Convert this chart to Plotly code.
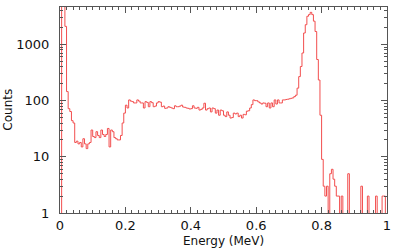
import numpy as np
import plotly.graph_objects as go

# Histogram: 200 bins of 0.005 MeV from 0 to 1 MeV
bin_start = 0.0
bin_width = 0.005
counts = [
    0, 30000, 6000, 2100, 145, 72, 64, 44, 40, 18,
    19, 17, 18, 15, 21, 17, 14, 17, 18, 30,
    23, 22, 28, 24, 22, 30, 25, 23, 25, 32,
    15, 30, 28, 22, 21, 20, 20, 24, 40, 60,
    83, 74, 103, 98, 96, 91, 91, 103, 98, 91,
    91, 74, 96, 93, 78, 96, 92, 78, 80, 91,
    96, 94, 78, 80, 73, 74, 78, 76, 74, 72,
    81, 78, 78, 80, 83, 77, 76, 74, 73, 71,
    72, 81, 74, 73, 76, 68, 70, 74, 90, 68,
    72, 74, 63, 74, 72, 60, 68, 55, 68, 66,
    55, 52, 63, 55, 49, 50, 60, 58, 60, 52,
    55, 49, 57, 56, 65, 66, 74, 85, 103, 100,
    100, 95, 91, 87, 91, 90, 78, 91, 74, 91,
    78, 103, 87, 103, 91, 91, 103, 103, 105, 106,
    108, 110, 112, 118, 125, 167, 268, 405, 705, 1600,
    2250, 3180, 3400, 3730, 3400, 2600, 1700, 540, 233, 55,
    9, 3, 2, 3, 0, 5, 6, 4, 3, 2,
    2, 0, 2, 0, 0, 0, 5, 0, 0, 0,
    0, 0, 0, 0, 3, 0, 0, 0, 2, 0,
    0, 0, 0, 2, 0, 0, 0, 2, 2, 0,
]

x_title = "Energy (MeV)"
y_title = "Counts"
x_tickvals = [0, 0.2, 0.4, 0.6, 0.8, 1]
x_ticktext = ["0", "0.2", "0.4", "0.6", "0.8", "1"]
y_tickvals = [1, 10, 100, 1000]
y_ticktext = ["1", "10", "100", "1000"]

counts_arr = np.array(counts, dtype=float)
edges = bin_start + bin_width * np.arange(len(counts_arr) + 1)
plot_counts = np.where(counts_arr > 0, counts_arr, 0.3)
xs = edges
ys = np.append(plot_counts, plot_counts[-1])

y_minor = [m * 10 ** d for d in range(0, 4) for m in range(2, 10)]

line_col = "#f24e4e"
axis_col = "#555555"
font_fam = "DejaVu Sans"

fig = go.Figure()
fig.add_trace(go.Scatter(
    x=xs, y=ys, mode="lines", line=dict(shape="hv", color=line_col, width=1),
    showlegend=False, hoverinfo="skip",
))

fig.update_layout(
    template="none",
    width=399, height=249,
    margin=dict(l=60, r=12, t=7, b=36, autoexpand=False),
    paper_bgcolor="white", plot_bgcolor="white",
    font=dict(family=font_fam, size=13, color="#111111"),
    xaxis=dict(
        range=[0, 1.00001], showgrid=False, zeroline=False, automargin=False,
        showline=True, linecolor=axis_col, linewidth=1, mirror="ticks",
        ticks="inside", ticklen=6, tickcolor=axis_col, tickwidth=1,
        tickvals=x_tickvals, ticktext=x_ticktext, ticklabeloverflow="allow",
        tickfont=dict(family=font_fam, size=13),
        minor=dict(ticks="inside", ticklen=3, tickcolor=axis_col, dtick=0.02, tick0=0, showgrid=False),
    ),
    yaxis=dict(
        type="log", range=[0, 3.667], showgrid=False, zeroline=False, automargin=False,
        showline=True, linecolor=axis_col, linewidth=1, mirror="ticks",
        ticks="inside", ticklen=6, tickcolor=axis_col, tickwidth=1,
        tickvals=y_tickvals, ticktext=y_ticktext,
        tickfont=dict(family=font_fam, size=13),
        ticklabelstandoff=7,
        minor=dict(ticks="inside", ticklen=3, tickcolor=axis_col, tickvals=y_minor, showgrid=False),
    ),
    annotations=[
        dict(text=x_title, xref="paper", yref="paper", x=0.5, y=-0.135,
             xanchor="center", yanchor="middle", showarrow=False,
             font=dict(family=font_fam, size=12, color="#111111")),
        dict(text=y_title, xref="paper", yref="paper", x=-0.16, y=0.5, textangle=-90,
             xanchor="center", yanchor="middle", showarrow=False,
             font=dict(family=font_fam, size=12, color="#111111")),
    ],
)

fig.write_html(
    "out.html",
    config={"displayModeBar": False, "staticPlot": True},
    post_script="document.body.style.margin='0';document.body.style.overflow='hidden';",
)
